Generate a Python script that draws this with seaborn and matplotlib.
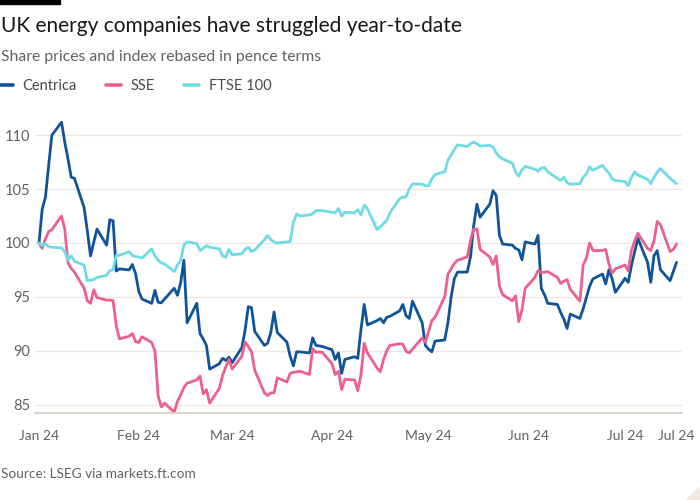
import pandas as pd
import matplotlib.pyplot as plt
import matplotlib.dates as mdates
import seaborn as sns
from matplotlib.patches import Rectangle, Polygon

# Rebased values (start = 100), one per trading day
centrica = [
    100.0, 103.15, 104.25, 107.2, 110.0, 111.2, 109.35, 107.8, 106.1, 106.0,
    103.3, 101.15, 98.8, 100.05, 101.3, 99.8, 102.15, 102.05, 97.4, 97.6, 97.5,
    98.0, 97.15, 95.5, 94.8, 94.4, 95.6, 94.5, 94.45, 94.8, 95.8,
    95.15, 96.3, 98.4, 92.6, 94.4, 91.6, 91.1, 90.5, 88.3, 88.8,
    89.3, 89.1, 89.4, 88.9, 90.3, 91.9, 94.1, 94.0, 91.8, 90.5,
    90.7, 91.7, 93.6, 91.7, 90.8, 89.5, 88.6, 89.9, 89.9, 89.8,
    91.2, 90.5, 90.45, 90.4, 90.1, 89.2, 89.8, 87.9, 89.2, 89.45, 89.3,
    92.0, 94.3, 92.4, 92.8, 93.0, 92.6, 93.1, 93.2, 93.7, 94.3,
    93.25, 93.0, 94.6, 92.6, 90.5, 90.15, 89.9, 90.9, 91.0, 92.6,
    95.0, 96.7, 97.3, 97.3, 98.7, 101.6, 103.6, 102.4, 103.6, 104.85,
    104.4, 100.7,
    99.9, 99.8, 99.5, 99.35, 98.45, 100.1, 99.9, 100.7, 95.8, 95.2,
    94.4, 94.3, 93.56, 92.94, 92.07, 93.4, 93.0, 93.9, 94.95, 95.98,
    96.66, 97.12, 96.2, 97.52, 96.66, 95.42, 96.72, 96.35, 97.9, 99.2,
    100.43, 98.2, 96.35, 98.82, 99.29, 97.52, 96.5, 97.34, 98.2,
]

sse = [
    100.0, 99.5, 100.4, 101.05, 101.25, 102.5, 101.3, 98.15, 97.65, 97.3,
    95.8, 94.65, 94.4, 95.65, 94.95, 94.7, 94.7, 94.65, 92.3, 91.1, 91.35,
    91.6, 90.85, 90.77, 91.3, 90.77, 90.0, 85.8, 84.8, 85.15, 84.3,
    85.3, 85.9, 86.6, 87.0, 87.3, 87.65, 86.0, 86.4, 85.15, 86.5,
    87.7, 88.5, 89.2, 88.3, 89.5, 90.8, 90.4, 89.9, 88.2, 86.1,
    85.85, 86.1, 86.1, 87.5, 87.1, 87.9, 88.0, 88.05, 88.1, 87.8,
    90.2, 89.85, 89.9, 89.85, 88.8, 87.8, 88.1, 86.4, 87.35, 87.3, 86.3,
    87.8, 90.7, 89.8, 88.4, 88.05, 89.2, 90.0, 90.5, 90.65, 90.6,
    89.95, 89.8, 90.15, 91.2, 90.8, 91.8, 92.8, 93.1, 95.0, 97.1,
    97.6, 98.1, 98.4, 98.7, 100.2, 101.3, 101.3, 99.4, 98.7, 98.0,
    98.8, 96.0,
    95.2, 94.64, 95.1, 92.7, 93.8, 95.8, 96.8, 97.45, 97.25, 97.3,
    97.34, 96.8, 96.25, 96.45, 96.6, 95.7, 94.6, 97.95, 98.6, 100.0,
    99.3, 99.3, 99.4, 98.05, 97.2, 97.6, 97.95, 97.4, 99.3, 100.2,
    100.9, 99.5, 99.3, 100.2, 102.0, 101.7, 99.2, 99.4, 99.9,
]

ftse = [
    100.0, 99.75, 99.95, 99.65, 99.6, 99.55, 99.2, 98.4, 98.8, 98.3,
    97.95, 96.5, 96.55, 96.6, 96.8, 97.0, 97.45, 97.5, 98.85, 98.85, 99.2,
    98.85, 98.75, 98.7, 98.6, 99.45, 98.8, 98.4, 98.15, 98.05, 97.35,
    97.95, 98.4, 99.8, 100.1, 99.95, 99.3, 99.5, 99.75, 99.6, 99.45,
    98.8, 98.67, 99.4, 98.9, 99.0, 99.4, 99.6, 99.2, 99.35, 100.3,
    100.7, 100.3, 100.1, 100.0, 100.1, 100.12, 101.9, 102.7, 102.5, 102.6,
    102.7, 103.0, 103.0, 103.0, 102.85, 102.8, 103.2, 102.5, 102.85, 102.8,
    103.1, 102.6, 103.5, 103.16, 101.25, 101.5, 101.8,
    102.1, 102.8, 104.1, 104.24, 104.3, 105.0, 105.48, 105.45, 105.3, 105.3,
    105.95, 106.35, 106.6, 107.7, 108.15, 108.7, 109.1, 108.95, 109.2, 109.35,
    109.2, 109.0, 109.05, 108.9, 108.35, 108.0, 107.8, 107.4, 106.6, 106.2,
    106.8, 107.1, 106.85, 106.65, 106.95, 107.0, 106.6, 106.0, 105.8, 106.1,
    105.6, 105.45, 105.5, 106.1, 106.4, 107.05, 106.75, 107.2, 106.8, 106.5,
    105.95, 105.8, 105.7, 105.3, 106.1, 106.6, 106.3, 105.9, 105.5, 106.1,
    106.56, 106.9, 106.0, 105.75, 105.5,
]

series_names = ['Centrica', 'SSE', 'FTSE 100']
colors = ['#0f5499', '#ec5f8e', '#6fdbe6']
y_ticks = [85, 90, 95, 100, 105, 110]

dates = pd.bdate_range('2024-01-01', periods=len(centrica))
df = pd.DataFrame({'date': dates, 'Centrica': centrica, 'SSE': sse, 'FTSE 100': ftse})
long_df = df.melt(id_vars='date', var_name='series', value_name='value')

sns.set_theme(style='white')
plt.rcParams['font.family'] = ['Lato', 'DejaVu Sans']

fig = plt.figure(figsize=(7, 5), dpi=100)
ax = fig.add_axes([0.05, 0.174, 0.9243, 0.5988])

sns.lineplot(data=long_df, x='date', y='value', hue='series', hue_order=series_names,
             palette=dict(zip(series_names, colors)), linewidth=2.0, ax=ax, legend=False)

# axes limits and ticks
start = pd.Timestamp('2024-01-01')
ax.set_xlim(start - pd.Timedelta(days=1.24), start + pd.Timedelta(days=199.7))
ax.set_ylim(84.23, 112)
ax.set_yticks(y_ticks)

month_ticks = list(pd.date_range('2024-01-01', '2024-07-01', freq='MS')) + [dates[-1]]
ax.set_xticks(month_ticks)
ax.set_xticklabels([d.strftime('%b %y') for d in month_ticks])
ax.xaxis.set_minor_locator(mdates.DayLocator())

ax.set_xlabel('')
ax.set_ylabel('')
ax.grid(False)
ax.yaxis.grid(True, color='#f0e7e0', linewidth=1)
ax.set_axisbelow(True)

for side in ['top', 'right', 'left']:
    ax.spines[side].set_visible(False)
ax.spines['bottom'].set_color('#d6cdc5')
ax.spines['bottom'].set_linewidth(1.2)

ax.tick_params(axis='x', which='major', length=8.6, width=0.8, color='#d6cdc5',
               labelsize=10, labelcolor='#66605c', pad=4)
ax.tick_params(axis='x', which='minor', length=5, width=0.5, color='#e6dfd8')
ax.tick_params(axis='y', length=0, labelsize=10.5, labelcolor='#66605c', pad=3.6)

# header
fig.add_artist(Rectangle((0, 1 - 4 / 500), 60 / 700, 4 / 500,
                         transform=fig.transFigure, color='black'))
fig.text(0.001, 0.936, 'UK energy companies have struggled year-to-date',
         fontsize=15, color='#1a1817', va='baseline')
fig.text(0.001, 0.878, 'Share prices and index rebased in pence terms',
         fontsize=11.3, color='#66605c', va='baseline')

handles = [plt.Line2D([], [], color=c, linewidth=2.6) for c in colors]
fig.legend(handles, series_names, loc='center left', bbox_to_anchor=(-0.004, 0.828),
           ncol=3, frameon=False, fontsize=10.5, handlelength=1.05, handletextpad=0.65,
           columnspacing=2.0, labelcolor='#4d4845', borderaxespad=0, borderpad=0)

fig.text(0.001, 0.052, 'Source: LSEG via markets.ft.com', fontsize=9.8,
         color='#66605c', va='center')
fig.add_artist(Polygon([(1.0, 0.0), (1.0, 0.026), (0.981, 0.0)], closed=True,
                       transform=fig.transFigure, color='#efe7e0'))

fig.savefig('out.png', dpi=100)
